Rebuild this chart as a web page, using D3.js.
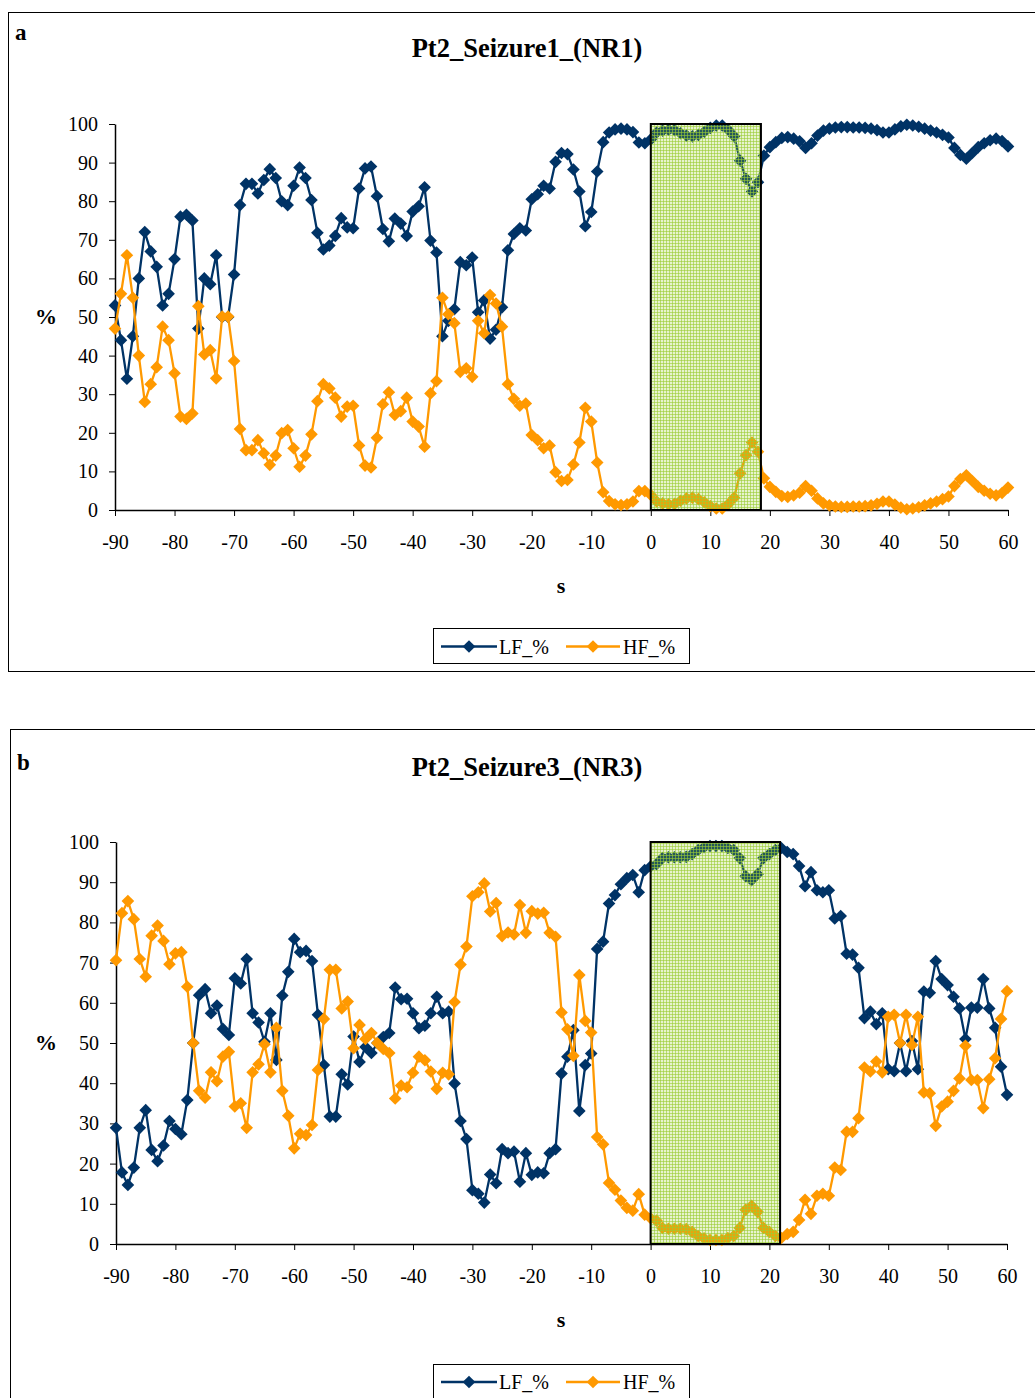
<!DOCTYPE html>
<html>
<head>
<meta charset="utf-8">
<script src="https://cdn.jsdelivr.net/npm/d3@7"></script>
<style>
  body { margin: 0; background: #fff; }
  svg { display: block; }
  text { font-family: "Liberation Serif", "Times New Roman", serif; fill: #000; }
</style>
</head>
<body>
<svg id="chart" width="1035" height="1398"></svg>
<script>
// time axis, one sample per second
const seconds = d3.range(-90, 61);
const xTicks = [-90, -80, -70, -60, -50, -40, -30, -20, -10, 0, 10, 20, 30, 40, 50, 60];
const yTicks = [0, 10, 20, 30, 40, 50, 60, 70, 80, 90, 100];
const seriesNames = ["LF_%", "HF_%"];

// panel a: Pt2_Seizure1_(NR1)
const titleA = "Pt2_Seizure1_(NR1)";
const seizureA = [0, 18.5];
const lfA = [
  53, 44, 34, 45, 60, 72, 67, 63, 53, 56,
  65, 76, 76.5, 75, 47, 60, 58.5, 66, 50, 50,
  61, 79, 84.5, 84.5, 82, 85.5, 88.3, 86, 80, 79,
  84, 88.7, 86, 80.3, 71.8, 67.5, 68.5, 71, 75.6, 73.2,
  73, 83.3, 88.5, 89, 81.3, 72.8, 69.6, 75.5, 74.2, 71,
  77.3, 78.7, 83.6, 69.8, 66.7, 45, 49, 52, 64.2, 63.4,
  65.4, 51.2, 54.3, 44.4, 46.7, 52.5, 67.3, 71.5, 73, 72.4,
  80.5, 81.8, 84, 83.3, 90.2, 92.5, 92.2, 88.2, 82.5, 73.5,
  77.2, 87.7, 95.3, 97.8, 98.6, 98.8, 98.6, 97.9, 95.2, 95,
  96, 97.8, 98.3, 98.5, 98.4, 97.6, 97, 96.8, 97.2, 98,
  99, 99.6, 99.6, 98.5, 96.8, 90.5, 85.8, 82.5, 84.9, 91.8,
  94, 95.3, 96.4, 96.6, 96.2, 95.5, 93.8, 95, 97, 98.3,
  98.8, 99.1, 99.2, 99.2, 99.1, 99.1, 99, 98.8, 98.4, 97.8,
  97.8, 98.6, 99.4, 99.8, 99.6, 99.3, 98.8, 98.3, 97.8, 97.2,
  96.5, 93.8, 92, 91, 92.5, 94, 95, 95.8, 96.2, 95.6, 94.2
];
const hfA = [
  47, 56, 66, 55, 40, 28, 32.6, 37, 47.5, 44,
  35.4, 24.2, 23.6, 25, 52.8, 40.3, 41.4, 34.1, 50.1, 50.1,
  38.6, 21, 15.5, 15.5, 18.1, 14.7, 11.7, 14.1, 19.9, 20.7,
  16, 11.2, 14.1, 19.6, 28.2, 32.6, 31.5, 29.1, 24.2, 26.8,
  27, 16.7, 11.5, 11, 18.7, 27.4, 30.5, 24.6, 25.6, 29.1,
  22.9, 21.6, 16.4, 30.2, 33.4, 55, 50.7, 48.4, 35.8, 36.7,
  34.5, 49, 45.8, 55.7, 53.5, 47.5, 32.6, 28.8, 27, 27.6,
  19.4, 18.1, 16, 16.7, 9.8, 7.5, 7.8, 11.8, 17.5, 26.5,
  22.9, 12.3, 4.6, 2.3, 1.5, 1.3, 1.5, 2.2, 4.9, 4.9,
  3.9, 2.2, 1.7, 1.5, 1.6, 2.4, 3, 3.2, 2.8, 2,
  1, 0.4, 0.4, 1.5, 3.2, 9.5, 14.2, 17.5, 15.1, 8.2,
  6, 4.7, 3.6, 3.4, 3.8, 4.5, 6.2, 5, 3, 1.7,
  1.2, 0.9, 0.8, 0.8, 0.9, 0.9, 1, 1.2, 1.6, 2.2,
  2.2, 1.4, 0.6, 0.2, 0.4, 0.7, 1.2, 1.7, 2.2, 2.8,
  3.5, 6.2, 8, 9, 7.5, 6, 5, 4.2, 3.8, 4.4, 5.8
];

// panel b: Pt2_Seizure3_(NR3)
const titleB = "Pt2_Seizure3_(NR3)";
const seizureB = [0, 21.8];
const lfB = [
  28.9, 17.8, 14.7, 19, 28.9, 33.3, 23.4, 20.6, 24.5, 30.6,
  28.6, 27.3, 35.8, 50, 61.9, 63.4, 57.4, 59.3, 53.5, 52,
  66.1, 64.8, 70.9, 57.4, 55.1, 50.3, 57.4, 45.8, 61.8, 67.7,
  75.9, 72.6, 72.9, 70.4, 57, 44.5, 31.7, 31.7, 42.2, 39.7,
  51.6, 45.3, 49, 47.5, 50, 51.5, 52.5, 63.8, 60.9, 61,
  57.4, 53.7, 54.3, 57.4, 61.5, 57.4, 57.8, 39.9, 30.6, 26.1,
  13.4, 12.5, 10.3, 17.3, 15.1, 23.6, 22.6, 23, 15.5, 22.6,
  17.2, 17.8, 17.6, 22.6, 23.6, 42.4, 46.6, 53.2, 33.1, 44.5,
  47.4, 73.4, 75.2, 84.7, 86.8, 89.5, 91, 91.8, 87.5, 93,
  93.9, 94.5, 96, 96.2, 96.2, 96.2, 96.3, 97, 98, 98.7,
  99, 99, 99, 98.5, 98, 96, 91.5, 90.5, 92, 96,
  97, 98, 98.5, 97.5, 97, 94, 89, 92.5, 88, 87.5,
  88, 81, 81.6, 72.2, 72, 68.7, 56.2, 57.8, 54.7, 57.4,
  43.5, 43, 50, 43, 50.5, 43.5, 62.8, 62.5, 70.4, 65.9,
  64.4, 61.5, 58.6, 51, 58.8, 58.8, 65.9, 58.6, 53.8, 44.1, 37.1
];
const hfB = [
  70.6, 82.3, 85.3, 80.8, 70.9, 66.5, 76.7, 79.2, 75.4, 69.6,
  72.3, 72.6, 64, 50, 38.1, 36.4, 42.7, 40.5, 46.6, 47.8,
  34.2, 35, 28.9, 42.7, 44.7, 49.7, 42.7, 53.8, 38.1, 31.9,
  23.8, 27.4, 27.1, 29.6, 43.3, 56, 68.2, 68.2, 58.6, 60.3,
  48.7, 54.5, 51, 52.5, 50, 48.5, 47.5, 36.2, 39.4, 39,
  42.6, 46.6, 45.7, 42.9, 38.6, 42.6, 42.2, 60.2, 69.5, 74,
  86.5, 87.5, 89.7, 82.7, 84.8, 76.6, 77.5, 77, 84.3, 77.4,
  82.8, 82.2, 82.4, 77.4, 76.4, 57.6, 53.4, 46.8, 66.9, 55.5,
  52.6, 26.6, 24.8, 15.2, 13.5, 10.8, 9, 8.3, 12.4, 7.3,
  6.4, 5.8, 4, 3.8, 3.8, 3.8, 3.7, 3, 2, 1.4,
  1, 1, 1, 1.5, 2, 4, 8.5, 9.5, 8, 4,
  3, 2, 1.5, 2.5, 3, 6, 11, 7.5, 12, 12.5,
  12, 19, 18.4, 27.9, 27.9, 31.3, 43.9, 42.9, 45.4, 42.7,
  56.5, 57, 50, 57, 49.5, 56.5, 37.7, 37.5, 29.4, 34.2,
  35.4, 38.1, 41.2, 49.3, 40.8, 40.8, 33.8, 41, 46.2, 56, 62.9
];

const colors = ["#003366", "#ff9900"];

const svg = d3.select("svg#chart");

// light green grid fill of the seizure window
const pat = svg.append("defs").append("pattern")
  .attr("id", "grid")
  .attr("width", 3)
  .attr("height", 3)
  .attr("patternUnits", "userSpaceOnUse");
pat.append("rect").attr("width", 3).attr("height", 3).attr("fill", "rgba(153,204,51,0.24)");
pat.append("rect").attr("width", 3).attr("height", 1).attr("fill", "rgba(153,204,51,0.6)");
pat.append("rect").attr("width", 1).attr("height", 3).attr("fill", "rgba(153,204,51,0.6)");

const panels = [
  { tag: "a", title: titleA, series: [lfA, hfA], win: seizureA,
    frame: [8, 12], plot: [115, 1008, 124, 510], tagY: 40, titleY: 57, legendY: 628, legendH: 35 },
  { tag: "b", title: titleB, series: [lfB, hfB], win: seizureB,
    frame: [10, 729], plot: [116, 1007, 842, 1244], tagY: 770, titleY: 776, legendY: 1364, legendH: 34 }
];

const diamond = d3.symbol().type(d3.symbolSquare).size(80);

panels.forEach(drawPanel);

function drawPanel(p) {
  const [left, right, top, bottom] = p.plot;
  const g = svg.append("g");

  g.append("rect")
    .attr("x", p.frame[0] + 0.5)
    .attr("y", p.frame[1] + 0.5)
    .attr("width", 1100)
    .attr("height", p.tag === "a" ? 659 : 720)
    .attr("fill", "none")
    .attr("stroke", "#000")
    .attr("stroke-width", 1);

  g.append("text")
    .attr("x", p.frame[0] + 7)
    .attr("y", p.tagY)
    .attr("font-size", 23)
    .attr("font-weight", "bold")
    .text(p.tag);

  g.append("text")
    .attr("x", 527)
    .attr("y", p.titleY)
    .attr("text-anchor", "middle")
    .attr("font-size", 26.5)
    .attr("font-weight", "bold")
    .text(p.title);

  const x = d3.scaleLinear().domain([-90, 60]).range([left, right]);
  const y = d3.scaleLinear().domain([0, 100]).range([bottom, top]);
  const plain = d => String(d); // hyphen-minus, as in the original

  const yAxis = g.append("g")
    .attr("transform", `translate(${left},0)`)
    .call(d3.axisLeft(y).tickValues(yTicks).tickFormat(plain).tickSize(6).tickSizeOuter(0).tickPadding(11));
  const xAxis = g.append("g")
    .attr("transform", `translate(0,${bottom})`)
    .call(d3.axisBottom(x).tickValues(xTicks).tickFormat(plain).tickSize(6).tickSizeOuter(0));

  [yAxis, xAxis].forEach(ax => {
    ax.select(".domain").attr("stroke", "#000").attr("stroke-width", 1.5);
    ax.selectAll(".tick line").attr("stroke", "#000");
    ax.selectAll(".tick text")
      .attr("font-family", "Liberation Serif, Times New Roman, serif")
      .attr("font-size", 20)
      .attr("fill", "#000");
  });
  xAxis.selectAll(".tick text").attr("dy", null).attr("y", 39);

  g.append("text")
    .attr("x", 46)
    .attr("y", (top + bottom) / 2 + 7)
    .attr("text-anchor", "middle")
    .attr("font-size", 22)
    .attr("font-weight", "bold")
    .text("%");

  g.append("text")
    .attr("x", 561)
    .attr("y", bottom + 83)
    .attr("text-anchor", "middle")
    .attr("font-size", 22)
    .attr("font-weight", "bold")
    .text("s");

  const line = d3.line()
    .x((d, i) => x(seconds[i]))
    .y(d => y(d));

  p.series.forEach((vals, k) => {
    g.append("path")
      .datum(vals)
      .attr("d", line)
      .attr("fill", "none")
      .attr("stroke", colors[k])
      .attr("stroke-width", 2.3)
      .attr("stroke-linejoin", "round");
    g.append("g")
      .selectAll("path")
      .data(vals)
      .join("path")
      .attr("d", diamond)
      .attr("transform", (d, i) => `translate(${x(seconds[i])},${y(d)}) rotate(45)`)
      .attr("fill", colors[k]);
  });

  // seizure window, drawn over the series
  g.append("rect")
    .attr("x", x(p.win[0]))
    .attr("y", y(100))
    .attr("width", x(p.win[1]) - x(p.win[0]))
    .attr("height", y(0) - y(100))
    .attr("fill", "url(#grid)")
    .attr("stroke", "#000")
    .attr("stroke-width", 2);

  // legend
  const lg = g.append("g").attr("transform", `translate(433,${p.legendY})`);
  lg.append("rect")
    .attr("x", 0.5).attr("y", 0.5)
    .attr("width", 256).attr("height", p.legendH)
    .attr("fill", "#fff").attr("stroke", "#000");
  const ly = p.legendH / 2 + 1;
  const items = [{ x0: 8, x1: 64, tx: 66 }, { x0: 133, x1: 187, tx: 190 }];
  items.forEach((it, k) => {
    lg.append("line")
      .attr("x1", it.x0).attr("x2", it.x1)
      .attr("y1", ly).attr("y2", ly)
      .attr("stroke", colors[k]).attr("stroke-width", 2.3);
    lg.append("path")
      .attr("d", diamond)
      .attr("transform", `translate(${(it.x0 + it.x1) / 2},${ly}) rotate(45)`)
      .attr("fill", colors[k]);
    lg.append("text")
      .attr("x", it.tx).attr("y", ly + 7)
      .attr("font-size", 20)
      .text(seriesNames[k]);
  });
}
</script>
</body>
</html>
